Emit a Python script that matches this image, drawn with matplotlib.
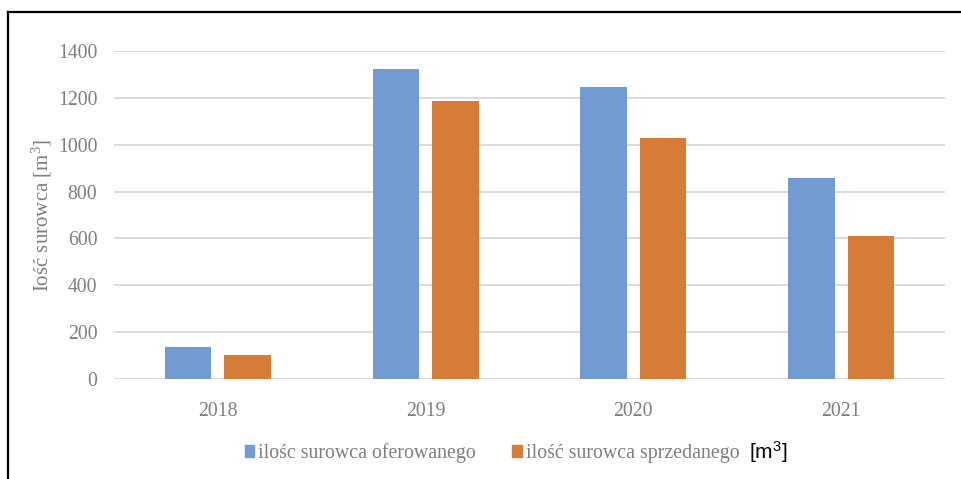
import numpy as np
import matplotlib.pyplot as plt
from matplotlib.lines import Line2D
from matplotlib.patches import Patch

# data
years = ["2018", "2019", "2020", "2021"]
oferowany = [137, 1322, 1245, 857]
sprzedany = [104, 1186, 1030, 611]
yticks = [0, 200, 400, 600, 800, 1000, 1200, 1400]

blue = "#729BD2"
orange = "#D67C39"
gray_txt = "#7F7F7F"

plt.rcParams["font.family"] = ["Liberation Serif", "DejaVu Serif"]
plt.rcParams["mathtext.fontset"] = "custom"
plt.rcParams["mathtext.rm"] = "Liberation Serif"
plt.rcParams["mathtext.sf"] = "Liberation Sans"

W, H = 962, 479
fig = plt.figure(figsize=(W / 100, H / 100), dpi=100)

# axes placed by pixel box
x0, x1 = 114, 945
y_top, y_bot = 50.7, 379.3
ax = fig.add_axes([x0 / W, 1 - y_bot / H, (x1 - x0) / W, (y_bot - y_top) / H])

x = np.arange(len(years))
bw = 0.224
off = 0.143
ax.bar(x - off, oferowany, bw, color=blue, zorder=3)
ax.bar(x + off, sprzedany, bw, color=orange, zorder=3)

ax.set_xlim(-0.5, len(years) - 0.5)
ax.set_ylim(0, 1400)
ax.set_yticks(yticks)
ax.set_xticks(x)
ax.set_xticklabels(years)
ax.grid(axis="y", color="#D9D9D9", linewidth=1.3, zorder=0)
ax.tick_params(length=0, labelsize=14.2, labelcolor=gray_txt)
ax.tick_params(axis="y", pad=12)
ax.tick_params(axis="x", pad=16)
for s in ax.spines.values():
    s.set_visible(False)

ax.set_ylabel(r"Iość surowca [m$\mathrm{^3}$]", fontsize=15, color=gray_txt)
ax.yaxis.set_label_coords(-0.072, 0.5)

# legend
handles = [Patch(color=blue), Patch(color=orange)]
leg = fig.legend(handles, ["ilośc surowca oferowanego", "ilość surowca sprzedanego"],
                 loc="center", bbox_to_anchor=(492 / W, 1 - 453 / H), ncol=2,
                 frameon=False, prop={"family": "Liberation Serif", "size": 14.3},
                 handlelength=0.5, handleheight=0.5,
                 handletextpad=0.2, columnspacing=1.8)
for t in leg.get_texts():
    t.set_color(gray_txt)
fig.text(749 / W, 1 - 452 / H, r"$\mathsf{[m^3]}$", fontsize=15,
         color="black", va="center", ha="left")

# outer frame (top and left edge)
fig.add_artist(Line2D([8 / W, 1], [1 - 12 / H, 1 - 12 / H], color="black", lw=1.6,
                      transform=fig.transFigure))
fig.add_artist(Line2D([8 / W, 8 / W], [1 - 12 / H, 0], color="black", lw=1.6,
                      transform=fig.transFigure))

fig.savefig("out.png", dpi=100)
